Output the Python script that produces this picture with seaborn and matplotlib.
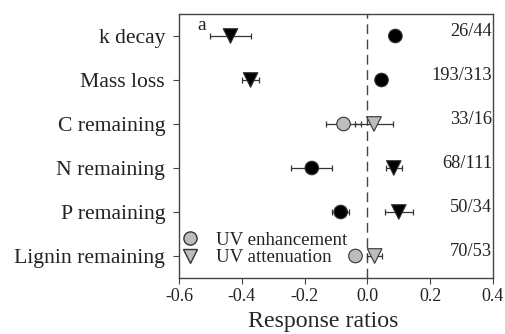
import matplotlib
matplotlib.use("Agg")
import matplotlib.pyplot as plt
from matplotlib.lines import Line2D
import seaborn as sns
import pandas as pd
import numpy as np

categories = ["k decay", "Mass loss", "C remaining", "N remaining", "P remaining", "Lignin remaining"]
enh_mean = [0.089, 0.045, -0.076, -0.177, -0.085, -0.038]
enh_err = [0.018, 0.0, 0.057, 0.065, 0.027, 0.014]
att_mean = [-0.436, -0.372, 0.021, 0.084, 0.100, 0.023]
att_err = [0.064, 0.027, 0.060, 0.025, 0.045, 0.025]
significant = [True, True, False, True, True, False]
counts = ["26/44", "193/313", "33/16", "68/111", "50/34", "70/53"]

sns.set_style("ticks")
plt.rcParams["font.family"] = ["Liberation Serif", "DejaVu Serif"]

fig = plt.figure(figsize=(5.05, 3.34), dpi=100)
ax = fig.add_axes([179/505, 1-278/334, (493-179)/505, (278-14)/334])

ypos = np.arange(1, len(categories) + 1)
gray = "#bdbdbd"
edge = "#333333"

df = pd.DataFrame({"cat": categories, "y": ypos, "enh": enh_mean, "enh_err": enh_err,
                   "att": att_mean, "att_err": att_err, "sig": significant})

for _, r in df.iterrows():
    ax.errorbar(r["enh"], r["y"], xerr=r["enh_err"], fmt="none", ecolor="#333333",
                elinewidth=0.9, capsize=2.5, capthick=0.9, zorder=2)
    ax.errorbar(r["att"], r["y"], xerr=r["att_err"], fmt="none", ecolor="#333333",
                elinewidth=0.9, capsize=2.5, capthick=0.9, zorder=2)

pal = {True: "black", False: gray}
sns.scatterplot(data=df, x="enh", y="y", hue="sig", palette=pal, marker="o", s=95,
                edgecolor=edge, linewidth=0.8, legend=False, ax=ax, zorder=3)
sns.scatterplot(data=df, x="att", y="y", hue="sig", palette=pal, marker="v", s=110,
                edgecolor=edge, linewidth=0.8, legend=False, ax=ax, zorder=3)

ax.axvline(0, color="#444444", linestyle=(0, (7, 4)), linewidth=1.0, zorder=1)

for y, c in zip(ypos, counts):
    ax.text(0.397, y - 0.1, c, ha="right", va="center", fontsize=13.2, color="#222222")

ax.text(-0.543, 0.75, "a", ha="left", va="center", fontsize=14, color="#222222")

ax.set_xlim(-0.6, 0.4)
ax.set_ylim(6.5, 0.5)
ax.set_yticks(ypos)
ax.set_yticklabels(categories, fontsize=15.6)
ax.set_xticks([-0.6, -0.4, -0.2, 0.0, 0.2, 0.4])
ax.set_xticklabels(["-0.6", "-0.4", "-0.2", "0.0", "0.2", "0.4"], fontsize=13)
ax.set_xlabel("Response ratios", fontsize=17.2)
ax.xaxis.set_label_coords(0.46, -0.125)
ax.set_ylabel("")
for s in ax.spines.values():
    s.set_visible(True)
    s.set_color("#444444")
    s.set_linewidth(1.0)
ax.tick_params(axis="both", direction="out", length=4, width=0.8, colors="#444444",
               labelcolor="#222222", pad=3)
ax.tick_params(axis="y", pad=6)

handles = [Line2D([], [], marker="o", linestyle="none", markerfacecolor=gray,
                  markeredgecolor=edge, markersize=9.5, label="UV enhancement"),
           Line2D([], [], marker="v", linestyle="none", markerfacecolor=gray,
                  markeredgecolor=edge, markersize=10, label="UV attenuation")]
leg = ax.legend(handles=handles, loc="lower left", frameon=False, fontsize=13.6,
                handletextpad=0.9, handlelength=1.0, borderaxespad=0.15, labelspacing=0.0,
                borderpad=0.3, bbox_to_anchor=(-0.022, 0.012))
for t in leg.get_texts():
    t.set_color("#222222")

fig.savefig("out.png", dpi=100)
